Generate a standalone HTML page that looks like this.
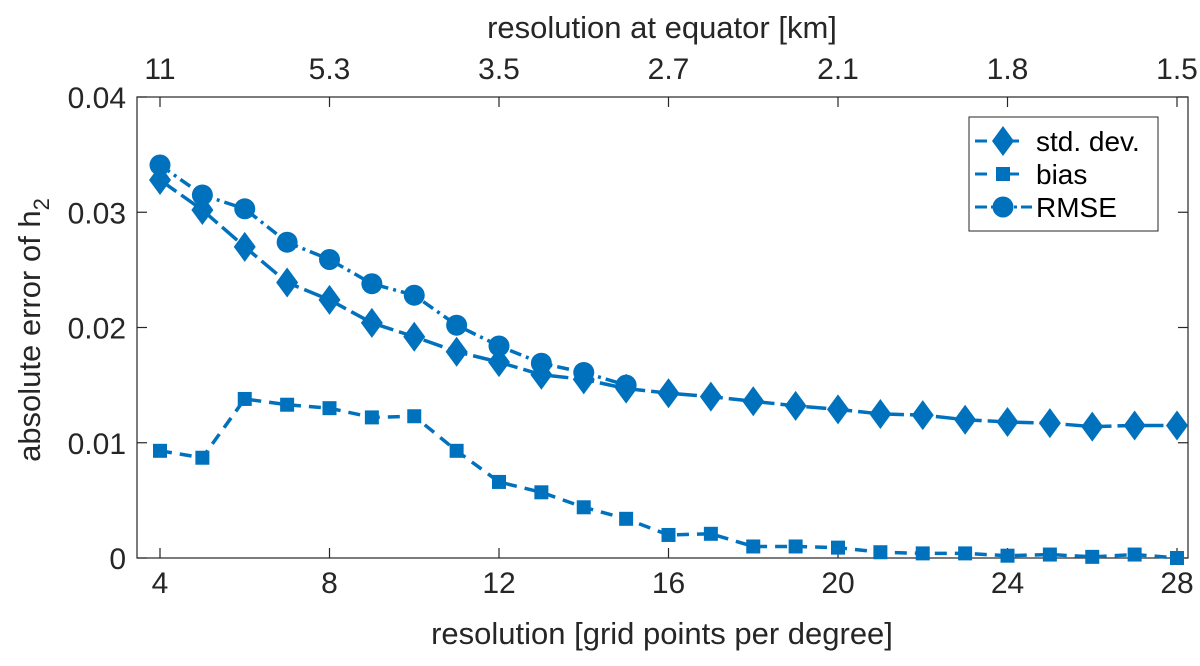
<!DOCTYPE html>
<html><head><meta charset="utf-8"><style>
body{margin:0;background:#fff}
svg text{font-family:"Liberation Sans",sans-serif;fill:#262626}
</style></head><body>
<svg id="chart" width="1200" height="661" xmlns="http://www.w3.org/2000/svg"></svg>
<script>
const xVals=[4,5,6,7,8,9,10,11,12,13,14,15,16,17,18,19,20,21,22,23,24,25,26,27,28];
const stdDev=[0.0328,0.0302,0.0270,0.0239,0.0224,0.0204,0.0192,0.0179,0.0170,0.0159,0.0155,0.0147,0.0143,0.0140,0.0136,0.0132,0.0129,0.0125,0.0124,0.0120,0.0118,0.0117,0.0114,0.0115,0.0115];
const bias=[0.0093,0.0087,0.0138,0.0133,0.0130,0.0122,0.0123,0.0093,0.0066,0.0057,0.0044,0.0034,0.0020,0.0021,0.0010,0.0010,0.0009,0.0005,0.0004,0.0004,0.0002,0.0003,0.0001,0.0003,0.0000];
const rmse=[0.0341,0.0315,0.0303,0.0274,0.0259,0.0238,0.0228,0.0202,0.0184,0.0169,0.0161,0.0150];
const xTicks=[4,8,12,16,20,24,28];
const yTicks=[0,0.01,0.02,0.03,0.04];
const yTickLabels=["0","0.01","0.02","0.03","0.04"];
const topTickLabels=["11","5.3","3.5","2.7","2.1","1.8","1.5"];
const C="#0072BD";
const L=137,R=1188,T=97,B=558;
const sx=v=>160+(v-4)*(1177-160)/24;
const sy=v=>B-(v/0.04)*(B-T);
const svg=document.getElementById('chart');
const NS="http://www.w3.org/2000/svg";
function mk(tag,attrs,parent){const e=document.createElementNS(NS,tag);for(const k in attrs)e.setAttribute(k,attrs[k]);(parent||svg).appendChild(e);return e;}
let fr=mk('rect',{x:L,y:T,width:R-L,height:B-T,fill:'none',stroke:'#262626','stroke-width':1.2});


xTicks.forEach((t,i)=>{
  const x=sx(t);
  let g=mk('g',{});
  
  
  mk('line',{x1:x,x2:x,y1:B,y2:B-10,stroke:'#262626','stroke-width':1.2},g);
  mk('line',{x1:x,x2:x,y1:T,y2:T+10,stroke:'#262626','stroke-width':1.2},g);
  let tx=mk('text',{x:x,y:593,'text-anchor':'middle','font-size':30},g);tx.textContent=t;
  let tt=mk('text',{x:x,y:79,'text-anchor':'middle','font-size':30},g);tt.textContent=topTickLabels[i];
});
yTicks.forEach((t,i)=>{
  const y=sy(t);
  let g=mk('g',{});
  
  
  mk('line',{x1:L,x2:L+10,y1:y,y2:y,stroke:'#262626','stroke-width':1.2},g);
  mk('line',{x1:R,x2:R-10,y1:y,y2:y,stroke:'#262626','stroke-width':1.2},g);
  let tx=mk('text',{x:126,y:y+11,'text-anchor':'end','font-size':30},g);tx.textContent=yTickLabels[i];
});
let xl=mk('text',{x:662,y:644,'text-anchor':'middle','font-size':31});xl.textContent='resolution [grid points per degree]';


let tl=mk('text',{x:662,y:38,'text-anchor':'middle','font-size':31});tl.textContent='resolution at equator [km]';


let yl=mk('text',{x:0,y:0,'text-anchor':'middle','font-size':31,transform:'translate(40,330) rotate(-90)'});
yl.innerHTML='absolute error of h<tspan font-size="22" dy="9">2</tspan>';


function marker(type,x,y,g){
  if(type==='d') return mk('polygon',{points:`${x},${y-15} ${x+11},${y} ${x},${y+15} ${x-11},${y}`,fill:C},g);
  if(type==='s') return mk('rect',{x:x-7,y:y-7,width:14,height:14,fill:C},g);
  return mk('circle',{cx:x,cy:y,r:10.5,fill:C},g);
}
function series(vals,type,dash,name){
  let g=mk('g',{});
  
  
  const pts=vals.map((v,i)=>sx(xVals[i])+','+sy(v)).join(' ');
  mk('polyline',{points:pts,fill:'none',stroke:C,'stroke-width':3.5,'stroke-dasharray':dash},g);
  vals.forEach((v,i)=>{let m=marker(type,sx(xVals[i]),sy(v),g);
    
    });
}
series(bias,'s','12 8','bias');
series(rmse,'o','12 5 3 5','rmse');
series(stdDev,'d','20 6','std-dev');
let lg=mk('g',{});


mk('rect',{x:969,y:117,width:189,height:114,fill:'#fff',stroke:'#262626','stroke-width':1},lg);
const ents=[['d','20 6','std. dev.',141],['s','12 8','bias',174],['o','12 5 3 5','RMSE',207]];
ents.forEach(e=>{
  let g=mk('g',{},lg);
  
  
  mk('line',{x1:975,x2:1032,y1:e[3],y2:e[3],stroke:C,'stroke-width':3,'stroke-dasharray':e[0]==='o'?'12 4 3 4':'12 20'},g);
  marker(e[0],1003,e[3],g);
  let t=mk('text',{x:1036,y:e[3]+10,'font-size':28},g);t.textContent=e[2];
  t.setAttribute('style','fill:#000');
});
</script>
</body></html>
